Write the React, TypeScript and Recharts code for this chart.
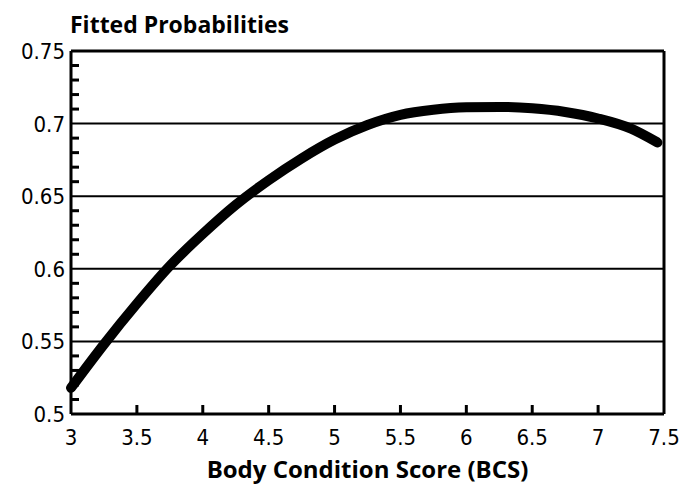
import React from 'react';
import { LineChart, Line, XAxis, YAxis, ReferenceLine } from 'recharts';

const bcs = [3.0, 3.25, 3.5, 3.75, 4.0, 4.25, 4.5, 4.75, 5.0, 5.25, 5.5, 5.75, 6.0, 6.25, 6.5, 6.75, 7.0, 7.25, 7.45];
const prob = [0.518, 0.548, 0.576, 0.602, 0.624, 0.644, 0.661, 0.676, 0.689, 0.699, 0.706, 0.7095, 0.7112, 0.7115, 0.7105, 0.708, 0.7035, 0.6965, 0.687];
const xTicks = [3, 3.5, 4, 4.5, 5, 5.5, 6, 6.5, 7, 7.5];
const yTicks = [0.5, 0.51, 0.52, 0.53, 0.54, 0.55, 0.56, 0.57, 0.58, 0.59, 0.6, 0.61, 0.62, 0.63, 0.64, 0.65, 0.66, 0.67, 0.68, 0.69, 0.7, 0.71, 0.72, 0.73, 0.74, 0.75];
const yMajor = [0.5, 0.55, 0.6, 0.65, 0.7, 0.75];
const yMajorLabels = ['0.5', '0.55', '0.6', '0.65', '0.7', '0.75'];
const gridLevels = [0.55, 0.6, 0.65, 0.7];
const title = 'Fitted Probabilities';
const xTitle = 'Body Condition Score (BCS)';

const data = bcs.map((b, i) => ({ bcs: b, p: prob[i] }));

const tickFont = "'Liberation Sans Narrow', 'DejaVu Sans Condensed', 'Liberation Sans', sans-serif";
const titleFont = "'Open Sans', 'Noto Sans', sans-serif";

const XTick = (props: any) => {
  const { x, y, payload } = props;
  const v = payload.value;
  const edge = v === 3 || v === 7.5;
  return (
    <g>
      {!edge && <line x1={x} y1={y} x2={x} y2={y - 9} stroke="#000" strokeWidth={3} />}
      <text x={x} y={y + 31} textAnchor="middle" fontSize={22} fontFamily={tickFont} fill="#000">
        {String(v)}
      </text>
    </g>
  );
};

const YTick = (props: any) => {
  const { x, y, payload } = props;
  const v = Math.round(payload.value * 100) / 100;
  const idx = yMajor.findIndex((m) => Math.abs(m - v) < 1e-6);
  if (idx >= 0) {
    return (
      <text x={x - 6} y={y + 8} textAnchor="end" fontSize={22} fontFamily={tickFont} fill="#000">
        {yMajorLabels[idx]}
      </text>
    );
  }
  return <line x1={x} y1={y} x2={x + 8} y2={y} stroke="#000" strokeWidth={3} />;
};

export default function App() {
  return (
    <div style={{ position: 'fixed', left: 0, top: 0, width: 694, height: 502, background: '#fff' }}>
      <div
        style={{
          position: 'absolute',
          left: 70,
          top: 9,
          fontFamily: titleFont,
          fontWeight: 700,
          fontSize: 23,
          lineHeight: '30px',
          color: '#000',
        }}
      >
        {title}
      </div>
      <LineChart width={694} height={502} data={data} margin={{ top: 51, right: 30, bottom: 58, left: 0 }}>
        <XAxis
          dataKey="bcs"
          type="number"
          domain={[3, 7.5]}
          ticks={xTicks}
          interval={0}
          height={30}
          tickSize={0}
          tickMargin={0}
          tickLine={false}
          axisLine={{ stroke: '#000', strokeWidth: 3 }}
          tick={<XTick />}
          allowDecimals
        />
        <YAxis
          type="number"
          domain={[0.5, 0.75]}
          ticks={yTicks}
          interval={0}
          width={71}
          tickSize={0}
          tickMargin={0}
          tickLine={false}
          axisLine={{ stroke: '#000', strokeWidth: 3 }}
          tick={<YTick />}
        />
        {gridLevels.map((g) => (
          <ReferenceLine key={g} y={g} stroke="#000" strokeWidth={2} />
        ))}
        <ReferenceLine y={0.75} stroke="#000" strokeWidth={3} />
        <ReferenceLine x={7.5} stroke="#000" strokeWidth={3} />
        <Line
          dataKey="p"
          type="monotone"
          stroke="#000"
          strokeWidth={10}
          strokeLinecap="round"
          dot={false}
          activeDot={false}
          isAnimationActive={false}
        />
      </LineChart>
      <div
        style={{
          position: 'absolute',
          left: 71,
          width: 593,
          top: 454,
          textAlign: 'center',
          fontFamily: titleFont,
          fontWeight: 700,
          fontSize: 24,
          lineHeight: '30px',
          color: '#000',
        }}
      >
        {xTitle}
      </div>
    </div>
  );
}
